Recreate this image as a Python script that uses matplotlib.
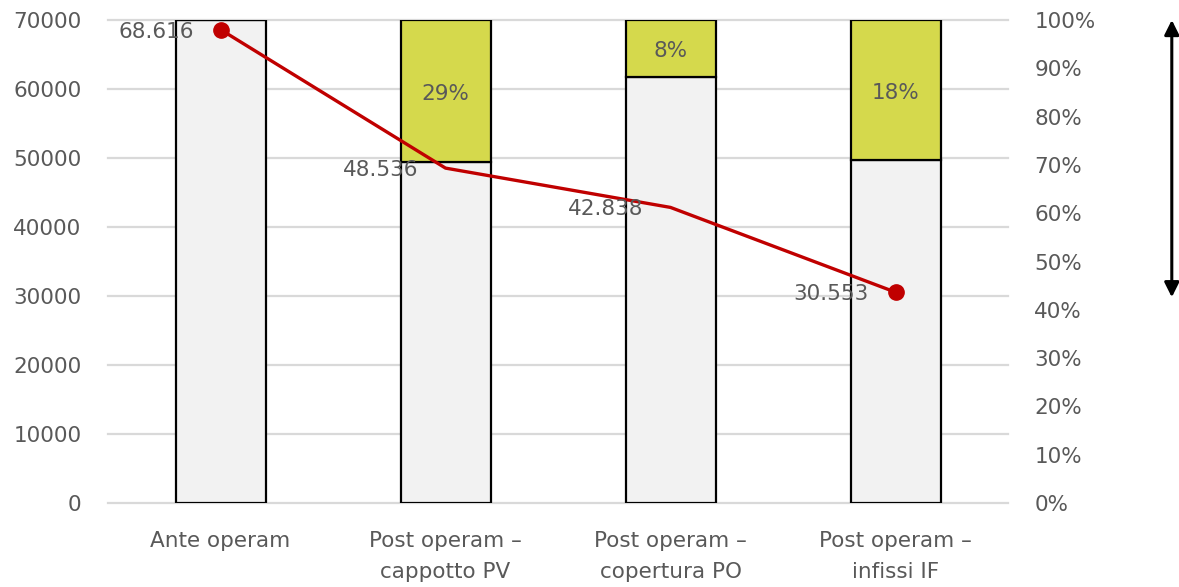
import matplotlib
matplotlib.use("Agg")
import matplotlib.pyplot as plt
import numpy as np

categories = ["Ante operam", "Post operam –\ncappotto PV", "Post operam –\ncopertura PO", "Post operam –\ninfissi IF"]
base_pct = [100.0, 70.7, 88.2, 71.0]          # grey part of bars (right axis, %)
saving_pct = [0.0, 29.3, 11.8, 29.0]          # yellow part of bars (right axis, %)
saving_labels = ["", "29%", "8%", "18%"]
energy = [68616, 48536, 42838, 30553]         # line values (left axis)
energy_labels = ["68.616", "48.536", "42.838", "30.553"]

TXT = "#595959"
GRID = "#d9d9d9"
GREY = "#f2f2f2"
YELLOW = "#d5d94c"
RED = "#c00000"

plt.rcParams['font.family'] = ['DejaVu Sans']

fig = plt.figure(figsize=(11.79, 5.87), dpi=100)
ax = fig.add_axes([108/1179, 1-503/587, 900/1179, 483/587])
ax2 = ax.twinx()

x = np.arange(len(categories))

# Left axis: grid + line
ax.set_ylim(0, 70000)
ax.set_yticks(np.arange(0, 70001, 10000))
ax.set_xlim(-0.5, len(categories) - 0.5)
ax.grid(axis='y', color=GRID, linewidth=1.6)
for gl in ax.get_ygridlines():
    gl.set_clip_on(False)
ax.set_axisbelow(True)

# Right axis: stacked bars
ax2.set_ylim(0, 100)
ax2.set_yticks(np.arange(0, 101, 10))
ax2.set_yticklabels([f"{v}%" for v in range(0, 101, 10)])
ax2.bar(x, base_pct, width=0.4, color=GREY, edgecolor="black", linewidth=1.6, zorder=2)
ax2.bar(x, saving_pct, width=0.4, bottom=base_pct, color=YELLOW, edgecolor="black", linewidth=1.6, zorder=2)
for xi, b, s, lab in zip(x, base_pct, saving_pct, saving_labels):
    if lab:
        ax2.annotate(lab, xy=(xi, b + s / 2), xytext=(0, -3), textcoords='offset pixels',
                     ha='center', va='center', fontsize=15.5, color=TXT, zorder=5)

# line on top: draw on ax2 using transform of ax
line_tr = ax.transData
ax2.plot(x, energy, color=RED, linewidth=2.4, transform=line_tr, zorder=4, solid_capstyle='round')
ax2.plot([x[0], x[-1]], [energy[0], energy[-1]], 'o', color=RED, markersize=11, transform=line_tr, zorder=4)
for xi, v, lab in zip(x, energy, energy_labels):
    ax2.annotate(lab, xy=(xi, v), xycoords=line_tr, xytext=(-27, -2), textcoords='offset pixels',
                 ha='right', va='center', fontsize=15.5, color=TXT, zorder=6)

# double-headed arrow at the right
ax2.annotate("", xy=(1.182, 100), xycoords=('axes fraction', 'data'),
             xytext=(1.182, 42.6), textcoords=('axes fraction', 'data'),
             arrowprops=dict(arrowstyle='<|-|>', color='black', lw=2.2, mutation_scale=22,
                             shrinkA=0, shrinkB=0), annotation_clip=False)

for a in (ax, ax2):
    for sp in a.spines.values():
        sp.set_visible(False)
    a.tick_params(length=0, labelsize=15.5, labelcolor=TXT)
ax.tick_params(axis='y', pad=19)
ax2.tick_params(axis='y', pad=19)
ax.set_xticks(x)
ax.set_xticklabels(categories, fontsize=15.5, color=TXT, linespacing=1.7)
ax.tick_params(axis='x', pad=20)

fig.savefig("out.png", dpi=100)
